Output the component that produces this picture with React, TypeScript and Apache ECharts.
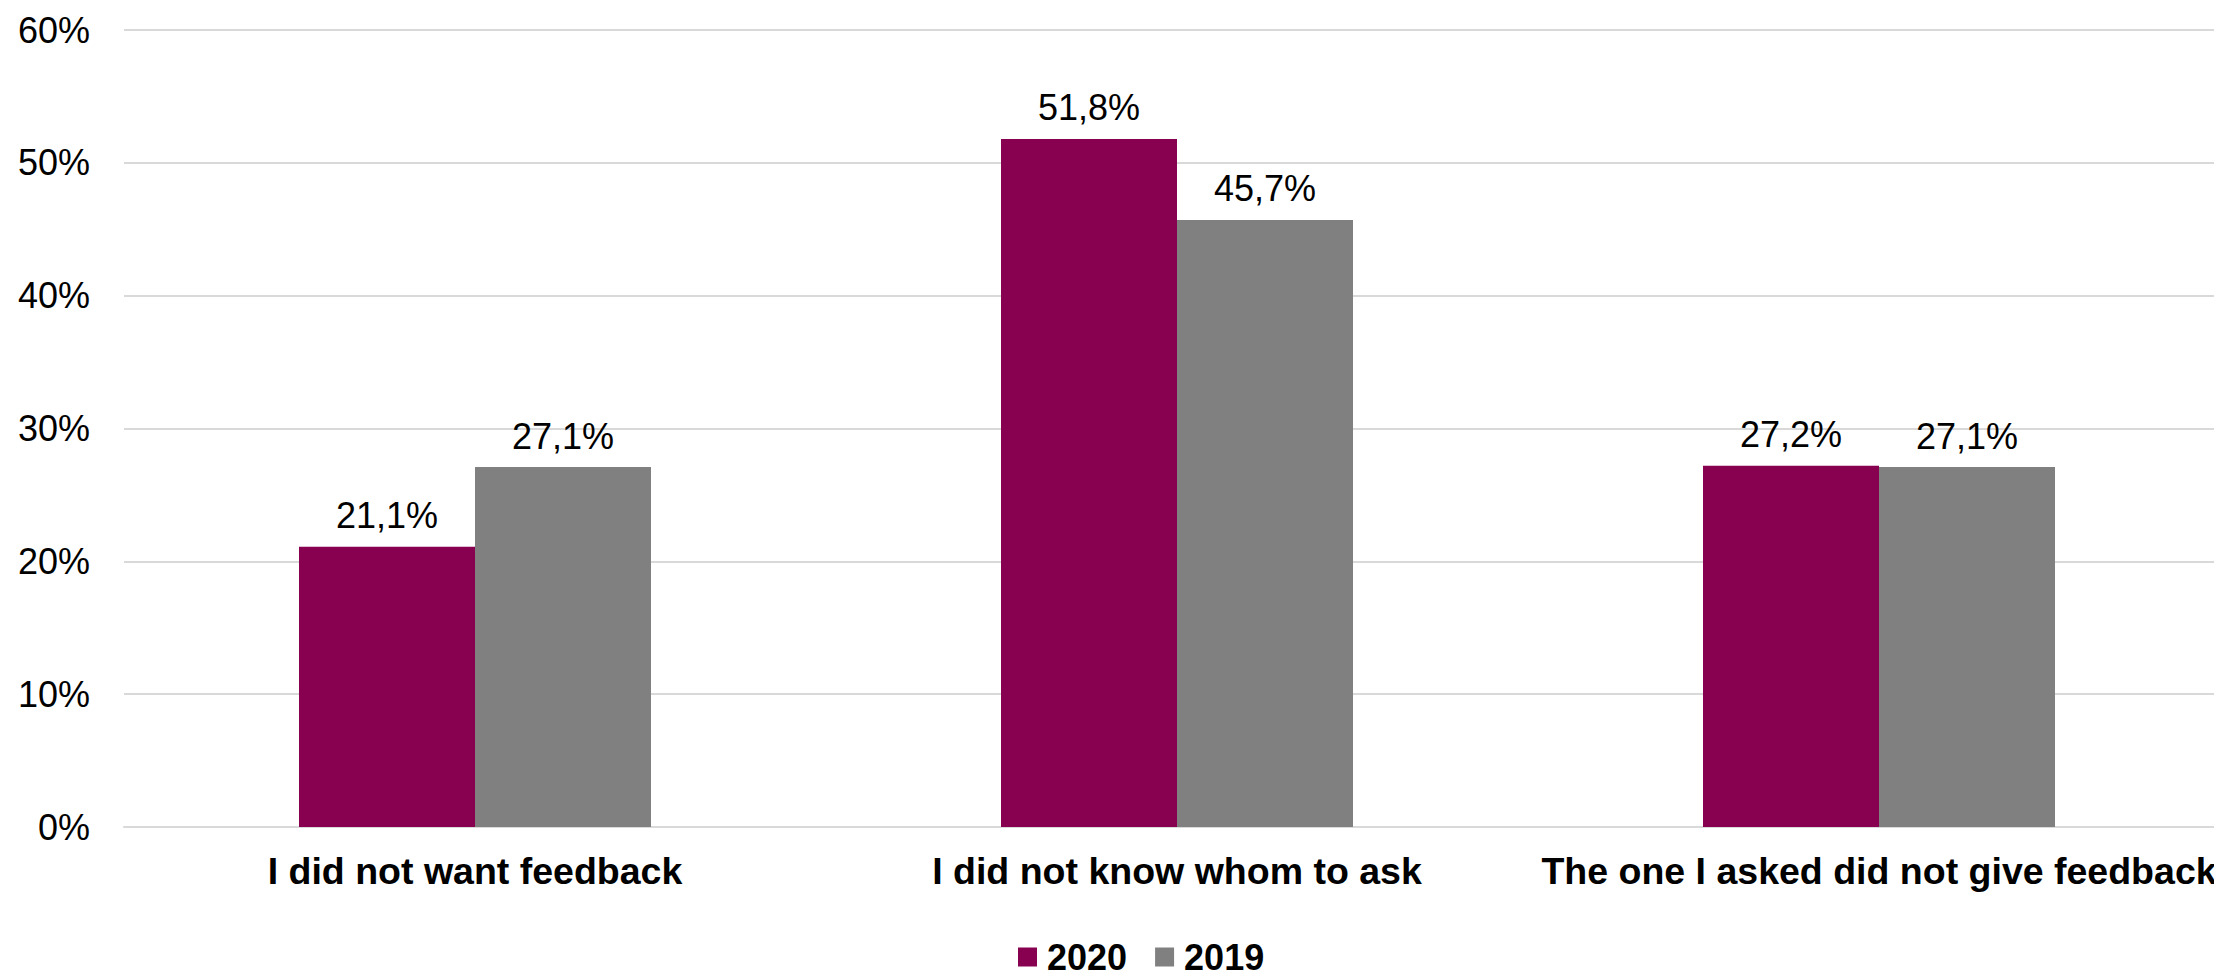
import React, { useEffect, useRef } from "react";
import * as echarts from "echarts";

const categories = ["I did not want feedback", "I did not know whom to ask", "The one I asked did not give feedback"];
const series2020 = [21.1, 51.8, 27.2];
const series2019 = [27.1, 45.7, 27.1];
const seriesNames = ["2020", "2019"];
const colors = ["#880050", "#808080"];

const FONT = "'Liberation Sans', Arial, sans-serif";

const fmt = (v: number) => v.toFixed(1).replace(".", ",") + "%";

export default function App() {
  const ref = useRef<HTMLDivElement>(null);
  useEffect(() => {
    if (!ref.current) return;
    const chart = echarts.init(ref.current, undefined, { renderer: "svg" });
    const labelCfg = {
      show: true,
      position: "top" as const,
      distance: 13,
      fontSize: 36,
      fontFamily: FONT,
      color: "#000",
      formatter: (p: any) => fmt(p.value),
    };
    chart.setOption({
      animation: false,
      backgroundColor: "#fff",
      textStyle: { fontFamily: FONT },
      grid: { left: 124, right: 10, top: 30, bottom: 143, containLabel: false },
      legend: {
        data: seriesNames,
        left: 1018,
        top: 939,
        icon: "rect",
        itemWidth: 19,
        itemHeight: 19,
        itemGap: 28,
        padding: 0,
        textStyle: {
          fontSize: 36,
          fontWeight: "bold",
          fontFamily: FONT,
          color: "#000",
          lineHeight: 30,
          padding: [0, 0, 0, 5],
        },
      },
      xAxis: {
        type: "category",
        data: categories,
        axisTick: { show: false },
        axisLine: { show: true, lineStyle: { color: "#d9d9d9", width: 2 } },
        axisLabel: {
          fontSize: 37.5,
          fontWeight: "bold",
          fontFamily: FONT,
          color: "#000",
          margin: 25,
          interval: 0,
        },
      },
      yAxis: {
        type: "value",
        min: 0,
        max: 60,
        interval: 10,
        axisLine: { show: false },
        axisTick: { show: false },
        splitLine: { lineStyle: { color: "#d9d9d9", width: 2 } },
        axisLabel: {
          fontSize: 36,
          fontFamily: FONT,
          color: "#000",
          margin: 34,
          formatter: "{value}%",
        },
      },
      series: [
        {
          name: seriesNames[0],
          type: "bar",
          data: series2020,
          barWidth: 176,
          barGap: "0%",
          itemStyle: { color: colors[0] },
          label: labelCfg,
        },
        {
          name: seriesNames[1],
          type: "bar",
          data: series2019,
          barWidth: 176,
          barGap: "0%",
          itemStyle: { color: colors[1] },
          label: labelCfg,
        },
      ],
    });
    return () => chart.dispose();
  }, []);
  return (
    <div style={{ position: "fixed", left: 0, top: 0, width: 2214, height: 970, overflow: "hidden", background: "#fff" }}>
      <div ref={ref} style={{ position: "absolute", left: 0, top: 0, width: 2240, height: 970 }} />
    </div>
  );
}
